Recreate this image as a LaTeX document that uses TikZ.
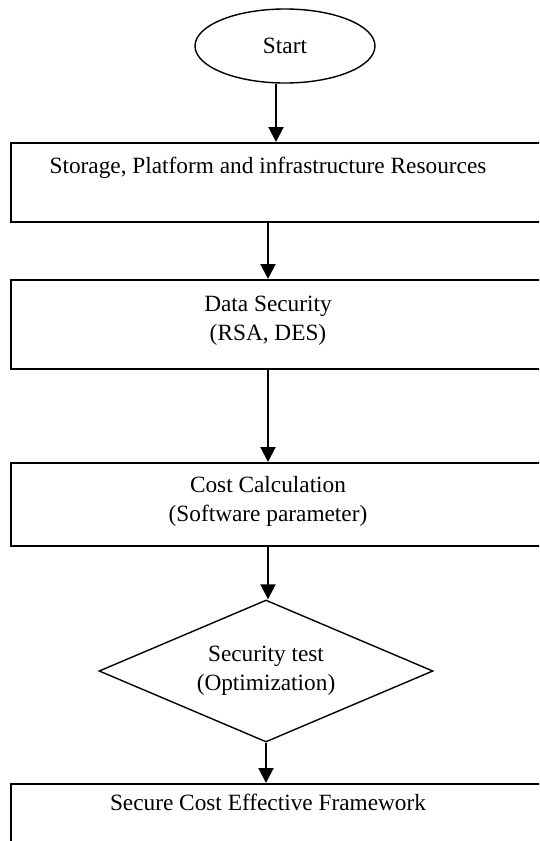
\documentclass[tikz,border=0pt]{standalone}
\usepackage{fontspec}
\setmainfont{Liberation Serif}
\usetikzlibrary{shapes.geometric,arrows.meta}
\begin{document}
\begin{tikzpicture}[x=1pt,y=-1pt,
  boxsh/.style={draw,line width=1.7pt,inner sep=0pt,anchor=north west,minimum width=560pt},
  lbl/.style={font=\fontsize{23.3}{29}\selectfont,align=center,inner sep=0pt},
  arr/.style={line width=2pt,-{Triangle[length=15pt,width=15pt]}}]
\useasboundingbox (0,0) rectangle (539,841);
\clip (0,0) rectangle (539,841);
\coordinate (a1) at (276,0);
\coordinate (ax) at (268,0);
\node[draw,ellipse,line width=1.4pt,inner sep=0pt,minimum width=180pt,minimum height=74pt,
      font=\fontsize{23.3}{29}\selectfont] (start) at (285,46) {Start};
\node[boxsh,minimum height=79pt] (box1) at (10,142) {};
\node[lbl] (t1) at (268,168) {Storage, Platform and infrastructure Resources};
\node[boxsh,minimum height=89pt] (box2) at (10,279) {};
\node[lbl] (t2) at (268,320.5) {Data Security\\(RSA, DES)};
\node[boxsh,minimum height=83pt] (box3) at (10,462) {};
\node[lbl] (t3) at (268,501.5) {Cost Calculation\\(Software parameter)};
\node[draw,diamond,line width=1.4pt,inner sep=0pt,aspect=2.35,minimum width=334pt,minimum height=142pt,
      lbl] (dia) at (266,671) {Security test\\(Optimization)};
\node[boxsh,minimum height=80pt] (box5) at (10,783) {};
\node[lbl] (t5) at (268,802) {Secure Cost Effective Framework};
\draw[arr] (start.south -| a1) -- (box1.north -| a1);
\draw[arr] (box1.south -| ax) -- (box2.north -| ax);
\draw[arr] (box2.south -| ax) -- (box3.north -| ax);
\draw[arr] (box3.south -| ax) -- (dia.north -| ax);
\draw[arr] (dia.south) -- (box5.north -| dia.south);
\end{tikzpicture}
\end{document}
